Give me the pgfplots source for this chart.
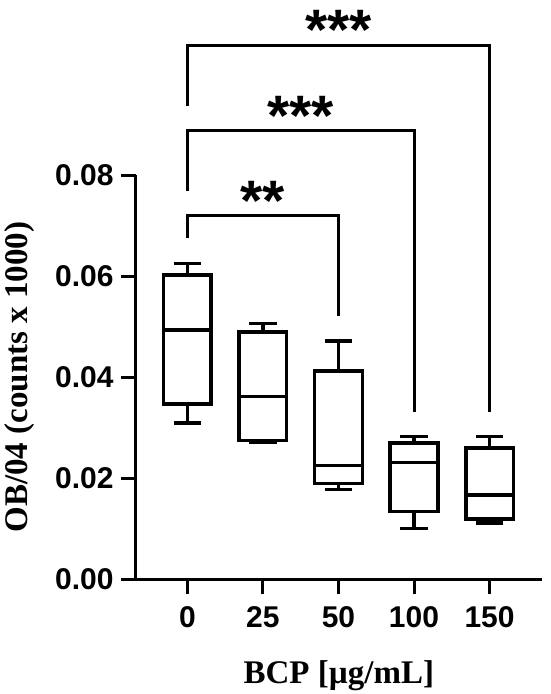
\documentclass[border=0pt]{standalone}
\usepackage{pgfplots}
\pgfplotsset{compat=1.18}
\usepackage{fontspec}
\setmainfont{Liberation Serif}
\newfontfamily\arialf{Liberation Sans}
\begin{document}
\begin{tikzpicture}
\begin{axis}[
  scale only axis, width=405.7pt, height=404.3pt,
  xmin=-0.68, xmax=4.69, ymin=0, ymax=0.08,
  axis lines*=left,
  axis line style={line width=3pt, black},
  clip=false,
  unbounded coords=jump,
  tick align=outside, major tick length=15pt,
  tick style={line width=3pt, black},
  xtick={0,1,2,3,4}, xticklabels={0,25,50,100,150},
  ytick={0,0.02,0.04,0.06,0.08},
  scaled y ticks=false,
  /pgf/number format/assume math mode=true,
  yticklabel style={/pgf/number format/fixed, /pgf/number format/fixed zerofill, /pgf/number format/precision=2, xshift=-4pt},
  xticklabel style={yshift=-9pt},
  ticklabel style={font=\arialf\bfseries\fontsize{30}{30}\selectfont},
  xlabel={BCP [µg/mL]}, ylabel={OB/04 (counts x 1000)},
  label style={font=\bfseries\fontsize{33}{33}\selectfont},
  xlabel style={at={(axis description cs:0.5,-0.2374)}, anchor=center},
  ylabel style={at={(axis description cs:-0.286,0.5)}, anchor=center},
]
% box 0: whisker low, q1, median, q3, whisker high = 0.0309 0.0347 0.0493 0.0602 0.0625
\addplot[black, line width=3.5pt, line cap=rect, mark=none] coordinates {
 (-0.315,0.0347) (0.315,0.0347) (0.315,0.0602) (-0.315,0.0602) (-0.315,0.0347) (0,nan)
 (-0.315,0.0493) (0.315,0.0493) (0,nan)
 (0,0.0602) (0,0.0625) (0,nan) (-0.16,0.0625) (0.16,0.0625) (0,nan)
 (0,0.0347) (0,0.0309) (0,nan) (-0.16,0.0309) (0.16,0.0309)};
% box 25: 0.0272 0.0275 0.0362 0.0489 0.0506
\addplot[black, line width=3.5pt, line cap=rect, mark=none] coordinates {
 (0.685,0.0275) (1.315,0.0275) (1.315,0.0489) (0.685,0.0489) (0.685,0.0275) (1,nan)
 (0.685,0.0362) (1.315,0.0362) (1,nan)
 (1,0.0489) (1,0.0506) (1,nan) (0.84,0.0506) (1.16,0.0506) (1,nan)
 (1,0.0275) (1,0.0272) (1,nan) (0.84,0.0272) (1.16,0.0272)};
% box 50: 0.0178 0.0190 0.0225 0.0412 0.0472
\addplot[black, line width=3.5pt, line cap=rect, mark=none] coordinates {
 (1.685,0.0190) (2.315,0.0190) (2.315,0.0412) (1.685,0.0412) (1.685,0.0190) (2,nan)
 (1.685,0.0225) (2.315,0.0225) (2,nan)
 (2,0.0412) (2,0.0472) (2,nan) (1.84,0.0472) (2.16,0.0472) (2,nan)
 (2,0.0190) (2,0.0178) (2,nan) (1.84,0.0178) (2.16,0.0178)};
% box 100: 0.0101 0.0134 0.0231 0.0270 0.0283
\addplot[black, line width=3.5pt, line cap=rect, mark=none] coordinates {
 (2.685,0.0134) (3.315,0.0134) (3.315,0.0270) (2.685,0.0270) (2.685,0.0134) (3,nan)
 (2.685,0.0231) (3.315,0.0231) (3,nan)
 (3,0.0270) (3,0.0283) (3,nan) (2.84,0.0283) (3.16,0.0283) (3,nan)
 (3,0.0134) (3,0.0101) (3,nan) (2.84,0.0101) (3.16,0.0101)};
% box 150: 0.0111 0.0119 0.0167 0.0260 0.0283
\addplot[black, line width=3.5pt, line cap=rect, mark=none] coordinates {
 (3.685,0.0119) (4.315,0.0119) (4.315,0.0260) (3.685,0.0260) (3.685,0.0119) (4,nan)
 (3.685,0.0167) (4.315,0.0167) (4,nan)
 (4,0.0260) (4,0.0283) (4,nan) (3.84,0.0283) (4.16,0.0283) (4,nan)
 (4,0.0119) (4,0.0111) (4,nan) (3.84,0.0111) (4.16,0.0111)};
% significance brackets
\addplot[line width=3pt, black, mark=none] coordinates {(0,0.0936) (0,0.1057) (4,0.1057) (4,0.0332)};
\addplot[line width=3pt, black, mark=none] coordinates {(0,0.0769) (0,0.0889) (3,0.0889) (3,0.0332)};
\addplot[line width=3pt, black, mark=none] coordinates {(0,0.0675) (0,0.0719) (2,0.0719) (2,0.0521)};
\node[anchor=north, inner sep=0pt, font=\arialf\bfseries\fontsize{57}{57}\selectfont] at (axis cs:2,0.1126) {***};
\node[anchor=north, inner sep=0pt, font=\arialf\bfseries\fontsize{57}{57}\selectfont] at (axis cs:1.5,0.0956) {***};
\node[anchor=north, inner sep=0pt, font=\arialf\bfseries\fontsize{57}{57}\selectfont] at (axis cs:1,0.0788) {**};
\end{axis}
\pgfresetboundingbox
\path (-136pt,-114.7pt) rectangle (414pt,579.3pt);
\end{tikzpicture}
\end{document}
